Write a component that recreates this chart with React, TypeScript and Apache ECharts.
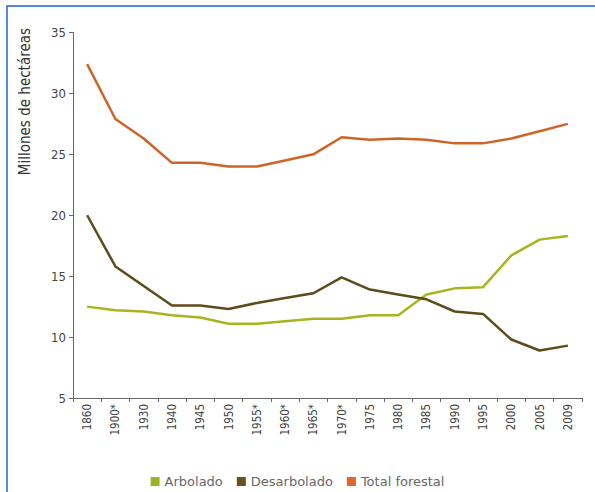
import React, { useEffect, useRef } from "react";
import * as echarts from "echarts";

const categories = ["1860", "1900*", "1930", "1940", "1945", "1950", "1955*", "1960*", "1965*", "1970*", "1975", "1980", "1985", "1990", "1995", "2000", "2005", "2009"];
const arbolado = [12.5, 12.2, 12.1, 11.8, 11.6, 11.1, 11.1, 11.3, 11.5, 11.5, 11.8, 11.8, 13.5, 14.0, 14.1, 16.7, 18.0, 18.3];
const desarbolado = [20.0, 15.8, 14.2, 12.6, 12.6, 12.3, 12.8, 13.2, 13.6, 14.9, 13.9, 13.5, 13.1, 12.1, 11.9, 9.8, 8.9, 9.3];
const totalForestal = [32.4, 27.9, 26.3, 24.3, 24.3, 24.0, 24.0, 24.5, 25.0, 26.4, 26.2, 26.3, 26.2, 25.9, 25.9, 26.3, 26.9, 27.5];
const yAxisTitle = "Millones de hectáreas";

const FONT = "'DejaVu Sans Condensed', 'Liberation Sans', sans-serif";
const LEGEND_FONT = "'DejaVu Sans', 'Liberation Sans', sans-serif";

export default function App() {
  const ref = useRef<HTMLDivElement>(null);
  useEffect(() => {
    document.body.style.margin = "0";
    const chart = echarts.init(ref.current!, null, { renderer: "svg" });
    const mk = (name: string, data: number[], color: string) => ({
      name,
      type: "line",
      data,
      showSymbol: false,
      symbol: "none",
      lineStyle: { color, width: 2.5 },
      itemStyle: { color },
    });
    chart.setOption({
      animation: false,
      backgroundColor: "#ffffff",
      textStyle: { fontFamily: FONT },
      graphic: [
        {
          type: "rect",
          shape: { x: 7, y: 6, width: 620, height: 520 },
          style: { fill: "none", stroke: "#1a66c8", lineWidth: 1.5 },
          silent: true,
        },
        {
          type: "text",
          x: 25,
          y: 28,
          rotation: Math.PI / 2,
          style: {
            text: yAxisTitle,
            fontFamily: FONT,
            fontSize: 15,
            fill: "#333",
            textAlign: "right",
            textVerticalAlign: "middle",
          },
        },
      ],
      grid: { left: 73, right: 13, top: 32.5, bottom: 94, containLabel: false },
      legend: {
        top: 470,
        left: "center",
        itemWidth: 9,
        itemHeight: 9,
        itemGap: 14,
        icon: "rect",
        textStyle: { fontFamily: LEGEND_FONT, fontSize: 13, color: "#666" },
        data: [
          { name: "Arbolado", itemStyle: { color: "#9db522" } },
          { name: "Desarbolado", itemStyle: { color: "#6b5119" } },
          { name: "Total forestal", itemStyle: { color: "#e2652a" } },
        ],
      },
      xAxis: {
        type: "category",
        data: categories,
        boundaryGap: true,
        axisLine: { lineStyle: { color: "#666", width: 1 } },
        axisTick: { show: true, alignWithLabel: false, length: 4, lineStyle: { color: "#666" } },
        axisLabel: { rotate: 90, fontSize: 11.5, color: "#444", margin: 6, interval: 0, fontFamily: FONT },
        splitLine: { show: false },
      },
      yAxis: {
        type: "value",
        min: 5,
        max: 35,
        interval: 5,
        axisLine: { show: true, lineStyle: { color: "#666", width: 1 } },
        axisTick: { show: true, length: 4, lineStyle: { color: "#666" } },
        axisLabel: { fontSize: 13, color: "#444", margin: 7, fontFamily: FONT },
        splitLine: { show: false },
      },
      series: [
        mk("Arbolado", arbolado, "#a6b51e"),
        mk("Desarbolado", desarbolado, "#5f4a1c"),
        mk("Total forestal", totalForestal, "#cf6427"),
      ],
    });
    return () => chart.dispose();
  }, []);
  return <div ref={ref} style={{ width: 595, height: 492 }} />;
}
